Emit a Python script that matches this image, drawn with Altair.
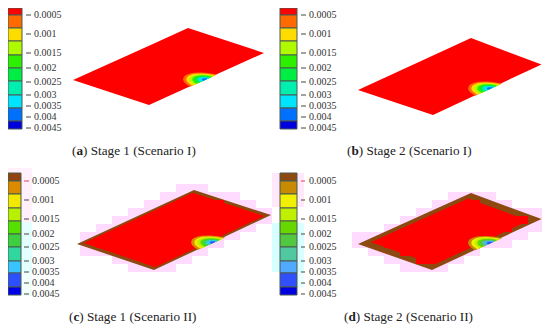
import altair as alt
import pandas as pd

# ---- values (image pixel coordinates) ----
tick_labels = ["0.0005", "0.001", "0.0015", "0.002", "0.0025", "0.003", "0.0035", "0.004", "0.0045"]
captions = ["Stage 1 (Scenario I)", "Stage 2 (Scenario I)", "Stage 1 (Scenario II)", "Stage 2 (Scenario II)"]
caption_keys = ["a", "b", "c", "d"]
caption_x = [72, 347, 69, 344]
caption_y = [151, 151, 317, 317]

palette_a = ["#ff0000", "#ff6a00", "#ffdc00", "#b0fa00", "#2cf000", "#00ee44", "#00efb0", "#00e4ff", "#0070ff", "#0000dc"]
palette_c = ["#8f4310", "#dc8a00", "#f2e800", "#b8f000", "#55e000", "#3cd040", "#30d8a0", "#38c4ff", "#2c50ff", "#0000e8"]
palette_d = ["#8a4a10", "#c88a00", "#f0f000", "#c0f000", "#66d800", "#50c840", "#50c8a0", "#50aaff", "#3050ff", "#0000e0"]
palettes = [palette_a, palette_a, palette_c, palette_d]

bar_edges_top = [8, 15, 28, 41, 55, 68, 81, 95, 108, 121, 129]
bar_edges_bottom = [173, 181, 194, 208, 221, 234, 247, 261, 273, 287, 295]
bar_edges = [bar_edges_top, bar_edges_top, bar_edges_bottom, bar_edges_bottom]
bar_x = [(8, 22), (280, 297), (8, 21), (280, 297)]
tick_x = [(26, 31), (301, 306), (24, 29), (301, 305)]
label_x = [34, 309, 32, 309]
tick_y_top = [15, 34, 53, 68, 82, 95, 106, 117, 128]
tick_y_bottom = [181, 200, 219, 234, 247, 261, 272, 283, 294]
tick_ys = [tick_y_top, tick_y_top, tick_y_bottom, tick_y_bottom]

# plate corners: left, top, right, bottom
plates = [
    [(73, 80), (188, 28), (264, 53), (149, 105)],
    [(358, 90), (471, 38), (541.5, 64.5), (433, 115)],
    [(77, 244), (194, 190), (271, 215), (154, 270)],
    [(358, 244), (471, 193), (541.5, 219), (432, 270)],
]
blob_centres = [(206, 79.5), (491, 88.5), (214, 242.5), (491, 243)]
arc_dx = [-23, -22, -20, -16, -12, -5, 2, 8, 11]
arc_top = [0, -3, -4.5, -6, -6.8, -7, -6.5, -5.5, -5]
arc_bot = [0, 2.5, 4.5, 7.2, 5.4, 2.3, -0.9, -3.6, -5]
level_scales = [1, 0.86, 0.72, 0.6, 0.48, 0.38, 0.3, 0.18]
inset_scale = [None, None, 0.93, 0.86]

halos = [
    (8, 168, 32, 222, "#fff0fb"), (8, 222, 32, 272, "#e4ffff"), (8, 272, 32, 296, "#f2ffff"),
    (272, 173, 304, 207, "#ffe8fa"), (272, 223, 304, 272, "#d8ffff"), (285, 272, 304, 288, "#ecffff"),
    (208, 240, 224, 248, "#d8ffff"), (482, 240, 498, 248, "#b8ffff"),
]
CELL_W, CELL_H = 16, 8
PINK, BROWN, RED = "#ffdcff", "#8c4a10", "#ff0000"
TICK, TEXT, FRAME = "#444444", "#333333", "#4a5a50"


def band(corners, gid, colour):
    L, T, R, B = corners
    def interp(p, q, x):
        return p[1] + (q[1] - p[1]) * (x - p[0]) / (q[0] - p[0])
    rows = []
    for x in sorted({L[0], T[0], R[0], B[0]}):
        top = L[1] if x == L[0] else (interp(L, T, x) if x <= T[0] else interp(T, R, x))
        bot = L[1] if x == L[0] else (interp(L, B, x) if x <= B[0] else interp(B, R, x))
        rows.append(dict(x=x, y=top, y2=bot, id=gid, c=colour))
    return rows


def inside(p, corners):
    sign = []
    n = len(corners)
    for i in range(n):
        a, b = corners[i], corners[(i + 1) % n]
        sign.append((b[0] - a[0]) * (p[1] - a[1]) - (b[1] - a[1]) * (p[0] - a[0]) >= 0)
    return all(sign) or not any(sign)


def scaled(corners, s):
    mx = (corners[0][0] + corners[2][0]) / 2
    my = (corners[0][1] + corners[2][1]) / 2
    return [(mx + (p[0] - mx) * s, my + (p[1] - my) * s) for p in corners]


plate_rows, red_rows, pink_rows, blob_rows, bar_rows, tick_rows, label_rows, cap_rows = [], [], [], [], [], [], [], []
for i, corners in enumerate(plates):
    stepped = i >= 2
    plate_rows += band(corners, f"p{i}a", BROWN if stepped else RED)
    if stepped:
        xs = [c[0] for c in corners]; ys = [c[1] for c in corners]
        for gx in range(int(min(xs) // CELL_W) * CELL_W - CELL_W, int(max(xs)) + CELL_W, CELL_W):
            for gy in range(int(min(ys) // CELL_H) * CELL_H - CELL_H, int(max(ys)) + CELL_H, CELL_H):
                cs = [(gx, gy), (gx + CELL_W, gy), (gx, gy + CELL_H), (gx + CELL_W, gy + CELL_H)]
                row = dict(x=gx, x2=gx + CELL_W, y=gy, y2=gy + CELL_H)
                n = sum(inside(p, corners) for p in cs)
                if n == 4:
                    red_rows.append(row)
                elif n > 0:
                    pink_rows.append(row)
        plate_rows += band(scaled(corners, inset_scale[i]), f"p{i}b", RED)
    cx, cy = blob_centres[i]
    for lev, s in enumerate(level_scales):
        for dx, t, b in zip(arc_dx, arc_top, arc_bot):
            blob_rows.append(dict(x=round(cx + dx * s, 2), y=round(cy + t * s, 2), y2=round(cy + b * s, 2),
                                  id=f"{i}-{lev:02d}", c=palettes[i][lev + 1 + (1 if lev == 8 else 0)]))
    edges = bar_edges[i]
    for k in range(10):
        bar_rows.append(dict(x=bar_x[i][0], x2=bar_x[i][1], y=edges[k], y2=edges[k + 1], c=palettes[i][k]))
    for k, lab in enumerate(tick_labels):
        first_red = stepped and k == 0
        tick_rows.append(dict(x=tick_x[i][0], x2=tick_x[i][1], y=tick_ys[i][k],
                              c="#e04068" if first_red else TICK))
        label_rows.append(dict(x=label_x[i], y=tick_ys[i][k], t=lab))
    cap_rows.append(dict(x=caption_x[i], y=caption_y[i], k=caption_keys[i], t=captions[i]))

XS = alt.Scale(domain=[8, 542], nice=False, zero=False)
YS = alt.Scale(domain=[327, 8], nice=False, zero=False)
X = alt.X("x:Q", scale=XS, axis=None)
Y = alt.Y("y:Q", scale=YS, axis=None)
X2 = alt.X2("x2:Q")
Y2 = alt.Y2("y2:Q")

halo_df = pd.DataFrame(halos, columns=["x", "y", "x2", "y2", "c"])
cap_df = pd.DataFrame(cap_rows)
cap_df["open"] = "("
cap_df["rest"] = ") " + cap_df["t"]
key_w = {"a": 6.6, "b": 7.4, "c": 5.9, "d": 7.4}
cap_df["kx"] = cap_df["x"] + 4.4
cap_df["rx"] = cap_df["kx"] + cap_df["k"].map(key_w)

FONT = "Liberation Serif"
CAP = 13.2


def blob_layer(df):
    return alt.Chart(df).mark_area(interpolate="linear").encode(
        X, Y, y2=Y2, color=alt.value(df["c"].iloc[0]))


blob_df = pd.DataFrame(blob_rows)
layers = [
    alt.Chart(halo_df).mark_rect(strokeWidth=0).encode(X, Y, x2=X2, y2=Y2, color=alt.Color("c:N", scale=None)),
    alt.Chart(pd.DataFrame(pink_rows)).mark_rect(color=PINK, strokeWidth=0).encode(X, Y, x2=X2, y2=Y2),
    alt.Chart(pd.DataFrame([r for r in plate_rows if r["id"].endswith("a")])).mark_area().encode(
        X, Y, y2=Y2, detail="id:N", color=alt.Color("c:N", scale=None)),
    alt.Chart(pd.DataFrame([r for r in plate_rows if r["id"].endswith("b")])).mark_area().encode(
        X, Y, y2=Y2, detail="id:N", color=alt.Color("c:N", scale=None)),
    alt.Chart(pd.DataFrame(red_rows)).mark_rect(color=RED, strokeWidth=0).encode(X, Y, x2=X2, y2=Y2),
]
layers += [blob_layer(g) for _, g in blob_df.groupby("id", sort=True)]
layers += [
    alt.Chart(pd.DataFrame(bar_rows)).mark_rect(stroke=FRAME, strokeWidth=1).encode(
        X, Y, x2=X2, y2=Y2, color=alt.Color("c:N", scale=None)),
    alt.Chart(pd.DataFrame(tick_rows)).mark_rule(strokeWidth=1).encode(
        X, Y, x2=X2, color=alt.Color("c:N", scale=None)),
    alt.Chart(pd.DataFrame(label_rows)).mark_text(align="left", baseline="middle", font=FONT, fontSize=10, color=TEXT).encode(
        X, Y, text="t:N"),
    alt.Chart(cap_df).mark_text(align="left", baseline="middle", font=FONT, fontSize=CAP, color="#222222").encode(
        X, Y, text="open:N"),
    alt.Chart(cap_df).mark_text(align="left", baseline="middle", font=FONT, fontSize=CAP, fontWeight="bold", color="#222222").encode(
        alt.X("kx:Q", scale=XS, axis=None), Y, text="k:N"),
    alt.Chart(cap_df).mark_text(align="left", baseline="middle", font=FONT, fontSize=CAP, color="#222222").encode(
        alt.X("rx:Q", scale=XS, axis=None), Y, text="rest:N"),
]

chart = alt.layer(*layers).properties(
    width=534, height=319, padding=0, autosize=alt.AutoSizeParams(type="none"), background="white"
).configure_view(stroke=None)

chart.save("out.html", embed_options={"renderer": "svg", "actions": False})
